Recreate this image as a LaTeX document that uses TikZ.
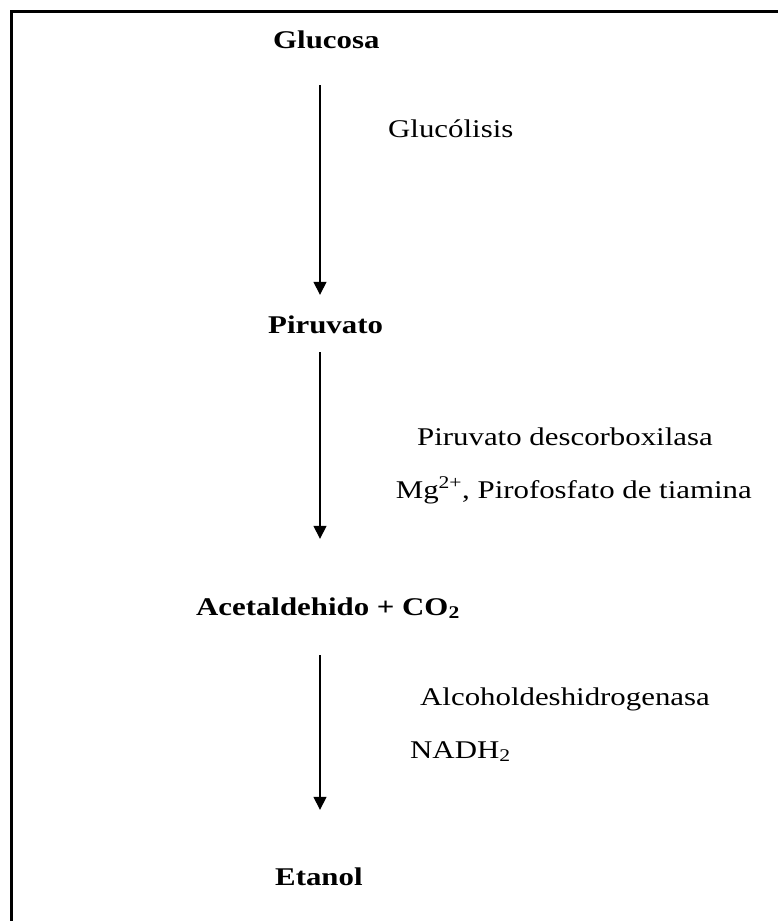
\documentclass[tikz,border=0pt]{standalone}
\usepackage{fontspec}
\setmainfont{Liberation Serif}[FakeStretch=1.21]
\usetikzlibrary{arrows.meta}
\begin{document}
\begin{tikzpicture}[x=1pt,y=-1pt,
  txt/.style={inner sep=0pt, text height=18pt, text depth=6pt, font=\fontsize{25.5}{30}\selectfont},
  compound/.style={txt, font=\fontsize{25.5}{30}\selectfont\bfseries},
  flow/.style={line width=1.5pt, -{Triangle[width=13pt,length=13pt]}},
  frameline/.style={line width=3pt}]
  \useasboundingbox (0,0) rectangle (778,921);

  % frame (left and top edges)
  \draw[frameline] (11,921) -- (11,11) -- (778,11);

  % axis of the reaction arrows
  \coordinate (ax) at (320,0);

  % compounds
  \node[compound, anchor=base west] (glucosa)  at (273,48)  {Glucosa};
  \node[compound, anchor=base west] (piruvato) at (268,333) {Piruvato};
  \node[compound, anchor=base east] (acetal)   at (460,615) {Acetaldehido + CO\textsubscript{2}};
  \node[compound, anchor=base west] (etanol)   at (275,885) {Etanol};

  % enzymes and cofactors
  \node[txt, anchor=base west] (gluco) at (388,137) {Glucólisis};
  \node[txt, anchor=base east] (pdc)   at (713,445) {Piruvato descorboxilasa};
  \node[txt, anchor=base east] (cof)   at (752,498) {Mg\textsuperscript{2+}, Pirofosfato de tiamina};
  \node[txt, anchor=base west] (adh)   at (420,705) {Alcoholdeshidrogenasa};
  \node[txt, anchor=base west] (nadh)  at (410,758) {NADH\textsubscript{2}};

  % reaction arrows
  \draw[flow, shorten <=31pt, shorten >=20pt] (glucosa.south -| ax) -- (piruvato.north -| ax);
  \draw[flow, shorten <=13pt, shorten >=58pt] (piruvato.south -| ax) -- (acetal.north -| ax);
  \draw[flow, shorten <=34pt, shorten >=57pt] (acetal.south -| ax) -- (etanol.north -| ax);
\end{tikzpicture}
\end{document}
